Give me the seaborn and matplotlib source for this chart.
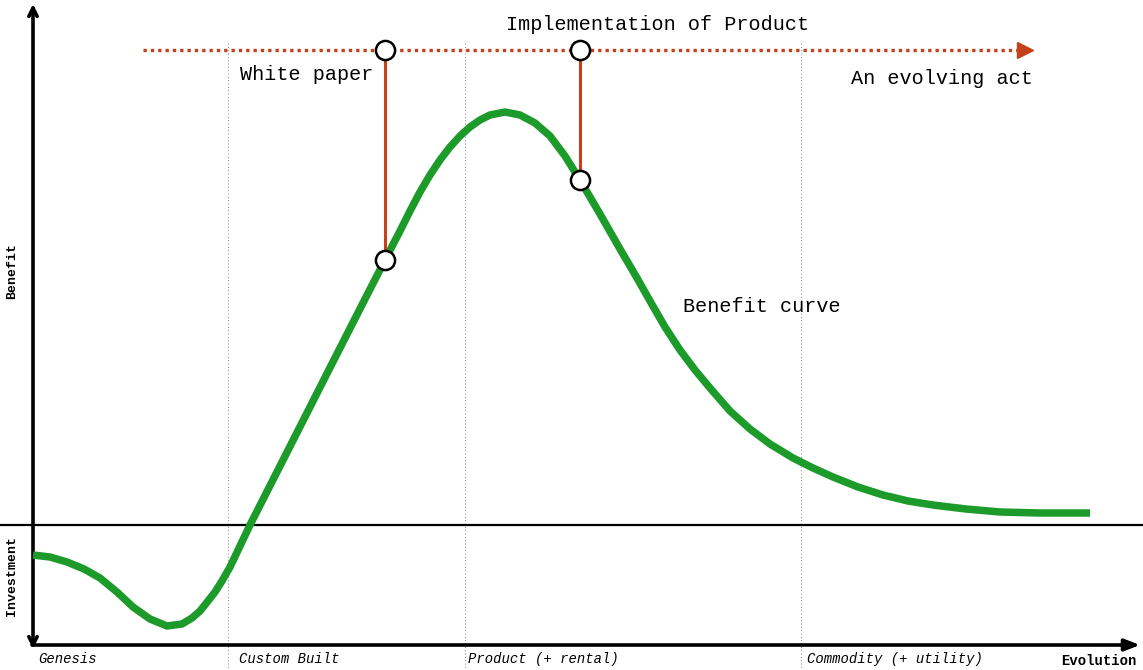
import numpy as np
import pandas as pd
import matplotlib
matplotlib.use("Agg")
import matplotlib.pyplot as plt
import seaborn as sns

# Benefit curve (evolution position, benefit above the baseline)
evolution = [0, 17, 34, 51, 67, 84, 100, 117, 134, 149, 159, 167, 175, 182, 189,
             197, 207, 217, 247, 277, 307, 332, 352, 367, 377, 387, 397, 407, 417,
             427, 437, 447, 457, 472, 487, 502, 517, 532, 547, 567, 587, 604, 617,
             632, 647, 662, 677, 697, 717, 737, 760, 780, 800, 825, 850, 875, 900,
             933, 967, 1007, 1057]
benefit = [-30, -32, -37, -44, -53, -67, -82, -94, -101, -99, -93, -86, -76, -67,
           -56, -42, -21, 0, 59, 118, 177, 226, 265, 294, 314, 333, 350, 365, 378,
           389, 398, 405, 410, 413, 410, 402, 389, 369, 345, 311, 276, 247, 224,
           198, 175, 155, 137, 114, 96, 81, 67, 57, 48, 38, 30, 24, 20, 16, 13,
           12, 12]

# white paper / implementation markers
marker_x = [352, 547]
marker_curve = [265, 345]
act_level = 475

stage_labels = ["Genesis", "Custom Built", "Product (+ rental)", "Commodity (+ utility)"]
stage_x = [5, 206, 435, 774]
stage_bounds = [195, 432, 768]

green = "#1c9a2a"
red = "#c4411b"
mono = ["Liberation Mono", "DejaVu Sans Mono"]

sns.set_style("white")
plt.rcParams["font.family"] = mono
plt.rcParams["text.color"] = "black"

fig = plt.figure(figsize=(11.43, 6.70), dpi=100)
ax = fig.add_axes([0, 0, 1, 1])
ax.set_xlim(-33, 1110)
ax.set_ylim(-145, 525)
ax.axis("off")

# stage boundaries
for b in stage_bounds:
    ax.plot([b, b], [482, -145], color="#999999", lw=0.8, ls=(0, (1, 2)), zorder=1)

# baseline
ax.axhline(0, color="black", lw=1.6, zorder=2)

# axes with arrows
ax.annotate("", xy=(1107, -120), xytext=(-1, -120),
            arrowprops=dict(arrowstyle="-|>,head_length=0.9,head_width=0.35",
                            color="black", lw=2.6, shrinkA=0, shrinkB=0))
ax.annotate("", xy=(0, 521), xytext=(0, -124),
            arrowprops=dict(arrowstyle="<->,head_length=0.6,head_width=0.3",
                            color="black", lw=2.6, shrinkA=0, shrinkB=0))

# benefit curve
curve = pd.DataFrame({"evolution": evolution, "benefit": benefit})
sns.lineplot(data=curve, x="evolution", y="benefit", sort=False, color=green,
             lw=5.4, ax=ax, zorder=3, solid_capstyle="butt", solid_joinstyle="round")

# evolving act line
ax.plot([110, 988], [act_level, act_level], color=red, lw=2.4, ls=(0, (1, 1.2)), zorder=4)
ax.plot([992], [act_level], marker=">", ms=11, color=red, mec=red, zorder=4)
for mx, my in zip(marker_x, marker_curve):
    ax.plot([mx, mx], [act_level, my], color=red, lw=2.2, zorder=4)

pts = pd.DataFrame({"x": marker_x * 2,
                    "y": [act_level] * len(marker_x) + marker_curve})
sns.scatterplot(data=pts, x="x", y="y", s=190, color="white", edgecolor="black",
                linewidth=1.8, ax=ax, zorder=5)
ax.set_xlabel("")
ax.set_ylabel("")

# annotations
ax.text(625, 501, "Implementation of Product", fontsize=14.5, ha="center", va="center")
ax.text(207, 450, "White paper", fontsize=14.5, ha="left", va="center")
ax.text(818, 446, "An evolving act", fontsize=14.5, ha="left", va="center")
ax.text(650, 219, "Benefit curve", fontsize=14.5, ha="left", va="center")

for lbl, sx in zip(stage_labels, stage_x):
    ax.text(sx, -134, lbl, fontsize=10, style="italic", ha="left", va="center")
ax.text(1104, -136, "Evolution", fontsize=10, weight="bold", ha="right", va="center")
ax.text(-21, 254, "Benefit", fontsize=9.5, weight="bold", rotation=90,
        ha="center", va="center")
ax.text(-21, -51, "Investment", fontsize=9.5, weight="bold", rotation=90,
        ha="center", va="center")

fig.savefig("out.png", dpi=100)
